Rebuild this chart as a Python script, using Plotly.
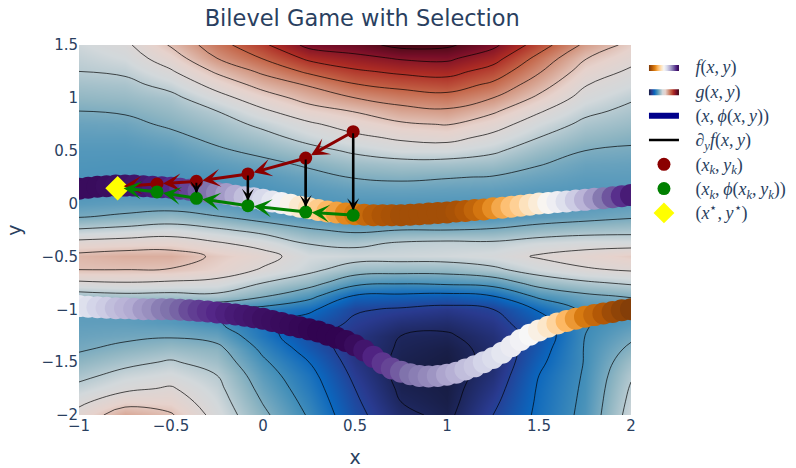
import plotly.graph_objects as go

# ---------------- lower-level objective g(x, y) on a grid ----------------
grid_x = [-1.0, -0.75, -0.5, -0.25, 0.0, 0.25, 0.5, 0.75, 1.0, 1.25, 1.5, 1.75, 2.0]
grid_y = [1.5, 1.375, 1.25, 1.125, 1.0, 0.875, 0.75, 0.625, 0.5, 0.375, 0.25, 0.125, 0.0,
          -0.125, -0.25, -0.375, -0.5, -0.625, -0.75, -0.875, -1.0, -1.125, -1.25, -1.375,
          -1.5, -1.625, -1.75, -1.875, -2.0]
g_rows = [
    [-0.6, -0.2, 1.1, 2.6, 3.8, 5.3, 5.6, 6.3, 6.2, 5.25, 3.5, 1.8, 0.7],
    [-0.8, -0.5, 0.5, 2.0, 3.05, 4.2, 4.7, 5.1, 5.2, 4.4, 2.7, 1.05, 0.3],
    [-1.0, -0.85, -0.1, 1.15, 2.2, 3.2, 3.85, 4.2, 4.35, 3.6, 2.1, 0.55, -0.15],
    [-1.35, -1.25, -0.7, 0.35, 1.35, 2.1, 2.95, 3.3, 3.5, 2.8, 1.45, 0.05, -0.5],
    [-1.65, -1.55, -1.25, -0.35, 0.55, 1.35, 2.0, 2.45, 2.65, 2.0, 0.8, -0.35, -0.9],
    [-2.0, -1.9, -1.55, -1.0, -0.15, 0.6, 1.05, 1.65, 1.85, 1.15, 0.1, -0.8, -1.2],
    [-2.3, -2.25, -1.85, -1.4, -0.8, -0.15, 0.4, 0.85, 1.05, 0.4, -0.5, -1.2, -1.5],
    [-2.5, -2.5, -2.25, -1.75, -1.3, -0.7, -0.2, 0.15, 0.3, -0.25, -1.0, -1.6, -1.85],
    [-2.65, -2.65, -2.55, -2.15, -1.75, -1.3, -0.85, -0.5, -0.5, -0.85, -1.5, -2.0, -2.1],
    [-2.72, -2.75, -2.72, -2.5, -2.25, -1.85, -1.45, -1.3, -1.3, -1.45, -1.95, -2.3, -2.35],
    [-2.78, -2.8, -2.82, -2.75, -2.6, -2.3, -1.95, -1.85, -1.95, -2.05, -2.3, -2.5, -2.5],
    [-2.8, -2.8, -2.85, -2.85, -2.78, -2.6, -2.4, -2.35, -2.4, -2.45, -2.6, -2.65, -2.6],
    [-2.55, -2.45, -2.5, -2.6, -2.8, -2.78, -2.7, -2.7, -2.7, -2.7, -2.75, -2.65, -2.5],
    [-2.05, -1.85, -1.6, -1.95, -2.45, -2.7, -2.8, -2.8, -2.8, -2.75, -2.5, -2.3, -2.1],
    [-0.9, -0.7, -0.5, -0.85, -1.3, -1.9, -2.2, -2.0, -2.0, -1.9, -1.6, -1.4, -1.3],
    [0.3, 0.42, 0.5, 0.1, -0.35, -1.05, -1.2, -0.9, -0.8, -0.85, -0.55, -0.4, -0.45],
    [1.25, 1.45, 1.45, 0.85, 0.35, -0.5, -0.6, -0.6, -0.55, -0.4, 0.1, 0.4, 0.8],
    [1.0, 1.0, 0.95, 0.6, -0.1, -0.75, -1.5, -1.6, -1.6, -1.2, -0.55, -0.1, 0.1],
    [-0.15, -0.05, -0.15, -0.3, -1.0, -1.6, -2.7, -2.9, -2.8, -2.6, -1.6, -1.15, -0.85],
    [-1.4, -1.25, -1.3, -1.2, -1.9, -2.7, -4.1, -4.2, -4.3, -4.0, -2.8, -2.2, -1.9],
    [-2.5, -2.55, -2.7, -2.9, -3.3, -3.8, -4.9, -5.1, -5.3, -5.0, -3.9, -2.8, -2.7],
    [-2.45, -2.45, -2.6, -2.9, -3.75, -4.45, -5.15, -5.6, -5.75, -5.35, -4.4, -3.05, -2.6],
    [-2.3, -2.2, -2.1, -2.35, -3.6, -4.7, -5.4, -6.0, -6.1, -5.6, -4.6, -3.0, -2.2],
    [-2.1, -1.77, -1.5, -1.75, -3.2, -4.4, -5.5, -6.1, -6.3, -5.75, -4.4, -2.95, -1.8],
    [-1.7, -1.25, -0.9, -1.4, -2.85, -4.0, -5.4, -6.2, -6.4, -5.75, -4.2, -2.95, -1.4],
    [-1.25, -0.7, -0.45, -1.0, -2.55, -3.7, -5.2, -6.25, -6.4, -5.6, -4.0, -2.9, -1.1],
    [-0.75, -0.2, 0.1, -0.75, -2.3, -3.5, -5.0, -6.15, -6.35, -5.4, -3.9, -2.85, -0.9],
    [-0.2, 0.6, 0.55, -0.55, -2.05, -3.3, -4.85, -6.0, -6.3, -5.2, -3.85, -2.8, -0.75],
    [0.3, 1.6, 1.1, -0.35, -1.8, -3.1, -4.7, -5.8, -6.2, -5.0, -3.8, -2.75, -0.6],
]

# ---------------- selection branches y = phi(x) and f along them ----------------
branch_x = [-1.0, -0.95, -0.9, -0.85, -0.8, -0.75, -0.7, -0.65, -0.6, -0.55, -0.5, -0.45,
            -0.4, -0.35, -0.3, -0.25, -0.2, -0.15, -0.1, -0.05, 0.0, 0.05, 0.1, 0.15, 0.2,
            0.25, 0.3, 0.35, 0.4, 0.45, 0.5, 0.55, 0.6, 0.65, 0.7, 0.75, 0.8, 0.85, 0.9,
            0.95, 1.0, 1.05, 1.1, 1.15, 1.2, 1.25, 1.3, 1.35, 1.4, 1.45, 1.5, 1.55, 1.6,
            1.65, 1.7, 1.75, 1.8, 1.85, 1.9, 1.95, 2.0]
upper_phi = [0.14, 0.15, 0.16, 0.165, 0.17, 0.17, 0.17, 0.165, 0.16, 0.155, 0.15, 0.14,
             0.13, 0.12, 0.11, 0.10, 0.09, 0.075, 0.06, 0.05, 0.035, 0.02, 0.005, -0.01,
             -0.03, -0.045, -0.06, -0.075, -0.085, -0.095, -0.10, -0.105, -0.11, -0.11,
             -0.11, -0.11, -0.105, -0.10, -0.095, -0.09, -0.085, -0.075, -0.07, -0.06,
             -0.055, -0.045, -0.04, -0.03, -0.02, -0.01, 0.0, 0.005, 0.015, 0.02, 0.03,
             0.035, 0.045, 0.05, 0.06, 0.07, 0.08]
upper_f = [0.97, 0.97, 0.97, 0.965, 0.96, 0.955, 0.95, 0.94, 0.93, 0.915, 0.90, 0.88,
           0.86, 0.83, 0.80, 0.77, 0.73, 0.70, 0.66, 0.63, 0.60, 0.56, 0.52, 0.48, 0.44,
           0.40, 0.35, 0.30, 0.26, 0.21, 0.18, 0.14, 0.11, 0.09, 0.08, 0.07, 0.07, 0.07,
           0.07, 0.07, 0.07, 0.08, 0.10, 0.13, 0.17, 0.22, 0.27, 0.32, 0.36, 0.41, 0.45,
           0.49, 0.53, 0.58, 0.63, 0.68, 0.73, 0.79, 0.84, 0.89, 0.93]
lower_phi = [-0.97, -0.975, -0.98, -0.985, -0.99, -0.99, -0.995, -1.0, -1.0, -1.0, -1.0,
             -1.005, -1.01, -1.015, -1.02, -1.03, -1.04, -1.05, -1.06, -1.075, -1.09,
             -1.11, -1.13, -1.15, -1.17, -1.19, -1.21, -1.24, -1.27, -1.30, -1.34, -1.39,
             -1.45, -1.51, -1.56, -1.59, -1.615, -1.63, -1.635, -1.63, -1.62, -1.60, -1.57,
             -1.54, -1.50, -1.46, -1.41, -1.35, -1.29, -1.24, -1.20, -1.165, -1.135, -1.11,
             -1.09, -1.07, -1.055, -1.04, -1.025, -1.01, -1.0]
lower_f = [0.56, 0.58, 0.61, 0.63, 0.66, 0.68, 0.70, 0.73, 0.75, 0.78, 0.80, 0.82, 0.85,
           0.87, 0.885, 0.90, 0.915, 0.93, 0.94, 0.95, 0.96, 0.965, 0.97, 0.975, 0.98,
           0.985, 0.99, 0.99, 0.99, 0.985, 0.97, 0.945, 0.91, 0.88, 0.86, 0.83, 0.80,
           0.78, 0.76, 0.74, 0.71, 0.69, 0.66, 0.64, 0.61, 0.59, 0.56, 0.54, 0.52, 0.50,
           0.47, 0.43, 0.37, 0.30, 0.24, 0.18, 0.14, 0.10, 0.06, 0.03, 0.01]

# ---------------- iterates of the bilevel scheme ----------------
xk = [0.49, 0.232, -0.082, -0.362, -0.576, -0.79]
yk = [0.68, 0.43, 0.28, 0.21, 0.185, 0.16]
phik = [-0.11, -0.08, -0.02, 0.05, 0.11, 0.15]
x_star = [-0.79]
y_star = [0.145]

TEXT = "#2a3f5f"
SANS = "Verdana, DejaVu Sans, sans-serif"
PAD = "\u2002\u2009"  # gap between legend swatch and label


def math(s):
    return PAD + "<span style='font-size:18px'>" + s + "</span>"


fig = go.Figure()

# legend swatch for f (values of f are shown as colours along the branches)
fig.add_trace(go.Heatmap(
    x=[10, 11], y=[10, 11], z=[[0, 1], [1, 0]], colorscale="PuOr", zmin=0, zmax=1,
    showscale=False, showlegend=True, name=math("<i>f</i>(<i>x</i>,\u2009<i>y</i>)"),
    hoverinfo="skip"))

# g as a smooth colour field plus black level lines
fig.add_trace(go.Heatmap(
    x=grid_x, y=grid_y, z=g_rows, colorscale="balance", zmin=-6.4, zmax=6.5,
    zsmooth="best", showscale=False, showlegend=True,
    name=math("<i>g</i>(<i>x</i>,\u2009<i>y</i>)"), hoverinfo="skip"))
fig.add_trace(go.Contour(
    x=grid_x, y=grid_y, z=g_rows, autocontour=False,
    contours=dict(start=-6, end=6, size=1, coloring="none"),
    line=dict(color="rgba(0,0,0,0.85)", width=0.8, smoothing=1.2),
    showscale=False, showlegend=False, hoverinfo="skip"))

# selection branches
sel_x = branch_x + [None] + branch_x
sel_y = upper_phi + [None] + lower_phi
fig.add_trace(go.Scatter(
    x=sel_x, y=sel_y, mode="lines", line=dict(color="darkblue", width=6),
    name=math("(<i>x</i>,\u2009<i>ϕ</i>(<i>x</i>,\u2009<i>y</i>))"), hoverinfo="skip"))
fig.add_trace(go.Scatter(
    x=branch_x + branch_x, y=upper_phi + lower_phi, mode="markers",
    marker=dict(color=upper_f + lower_f, colorscale="PuOr", cmin=0, cmax=1, size=22,
                line=dict(width=0)),
    showlegend=False, hoverinfo="skip"))

# gradient steps in y (red iterate down to its selection)
n_drop = 4
drop_x, drop_y = [], []
for k in range(n_drop):
    drop_x += [xk[k], xk[k], None]
    drop_y += [yk[k], phik[k], None]
fig.add_trace(go.Scatter(
    x=drop_x, y=drop_y, mode="lines", line=dict(color="black", width=2.5),
    name=math("∂<sub><i>y</i></sub><i>f</i>(<i>x</i>,\u2009<i>y</i>)"), hoverinfo="skip"))

fig.add_trace(go.Scatter(
    x=xk, y=yk, mode="markers", marker=dict(color="darkred", size=13),
    name=math("(<i>x</i><sub><i>k</i></sub>,\u2009<i>y</i><sub><i>k</i></sub>)")))
fig.add_trace(go.Scatter(
    x=xk, y=phik, mode="markers", marker=dict(color="green", size=13),
    name=math("(<i>x</i><sub><i>k</i></sub>,\u2009<i>ϕ</i>(<i>x</i><sub><i>k</i></sub>,"
              "\u2009<i>y</i><sub><i>k</i></sub>))")))
fig.add_trace(go.Scatter(
    x=x_star, y=y_star, mode="markers",
    marker=dict(color="yellow", size=19, symbol="diamond"),
    name=math("(<i>x</i><sup>⋆</sup>,\u2009<i>y</i><sup>⋆</sup>)")))

# arrows
arrows = []
for k in range(len(xk) - 1):
    arrows.append(dict(x=xk[k + 1], y=yk[k + 1], ax=xk[k], ay=yk[k],
                       arrowcolor="darkred", arrowwidth=3, standoff=6))
    arrows.append(dict(x=xk[k + 1], y=phik[k + 1], ax=xk[k], ay=phik[k],
                       arrowcolor="green", arrowwidth=3, standoff=6))
for k in range(n_drop):
    arrows.append(dict(x=xk[k], y=phik[k], ax=xk[k], ay=yk[k],
                       arrowcolor="black", arrowwidth=2, standoff=5))
for a in arrows:
    fig.add_annotation(xref="x", yref="y", axref="x", ayref="y", text="",
                       showarrow=True, arrowhead=3, arrowsize=1.0, **a)

fig.update_layout(
    width=796, height=468, autosize=False,
    margin=dict(l=79, r=165, t=45, b=53),
    paper_bgcolor="white", plot_bgcolor="white",
    font=dict(family=SANS, color=TEXT, size=14),
    title=dict(text="Bilevel Game with Selection", x=0.455, xanchor="center",
               y=0.962, yanchor="middle", font=dict(family=SANS, size=22.5, color=TEXT)),
    legend=dict(xref="container", yref="container", x=0.809, y=0.8935,
                xanchor="left", yanchor="top",
                font=dict(family="Liberation Serif", size=16.4, color=TEXT),
                bgcolor="rgba(0,0,0,0)"),
)
fig.update_xaxes(range=[-1, 2], dtick=0.5, showgrid=False, zeroline=False, automargin=False,
                 title=dict(text="x", font=dict(size=19), standoff=20),
                 tickfont=dict(size=15))
fig.update_yaxes(range=[-2, 1.5], dtick=0.5, showgrid=False, zeroline=False, automargin=False,
                 title=dict(text="y", font=dict(size=19), standoff=14),
                 tickfont=dict(size=15))

fig.write_html("out.html")
